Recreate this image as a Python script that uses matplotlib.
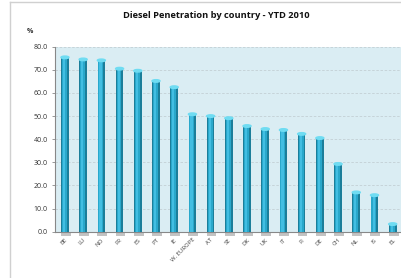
import numpy as np
import matplotlib
matplotlib.use("Agg")
import matplotlib.pyplot as plt
from matplotlib.lines import Line2D
from matplotlib.patches import Ellipse

# DATA
countries = ["BE", "LU", "NO", "FR", "ES", "PT", "IE", "W. EUROPE", "AT", "SE",
             "DK", "UK", "IT", "FI", "DE", "CH", "NL", "IS", "EL"]
diesel_share = [75.4, 74.5, 74.1, 70.5, 69.6, 65.2, 62.5, 50.8, 50.0, 49.1,
                45.7, 44.4, 44.0, 42.3, 40.5, 29.3, 17.0, 15.8, 3.3]
yticks = [0, 10, 20, 30, 40, 50, 60, 70, 80]

plt.rcParams["font.family"] = ["Open Sans", "DejaVu Sans"]

fig = plt.figure(figsize=(4.01, 2.78), dpi=100)
ax = fig.add_axes([0.137, 0.1665, 0.865, 0.6655])

x = np.arange(len(countries))
w = 0.42

# shadow under the bars
ax.bar(x + 0.05, -1.8, width=w + 0.12, color="#7a7a7a", alpha=0.45,
       clip_on=False, zorder=1)

# cylinder look: dark body, mid band, light core
ax.bar(x, diesel_share, width=w, color="#1b7e9a", zorder=3)
ax.bar(x - 0.03, diesel_share, width=w * 0.64, color="#29a8cb", zorder=4)
ax.bar(x - 0.05, diesel_share, width=w * 0.28, color="#42bee2", zorder=5)

# top caps
for xi, v in zip(x, diesel_share):
    ax.add_patch(Ellipse((xi, v), w * 1.05, 1.1, color="#6fdcf2", zorder=6))

ax.set_facecolor("#daedf3")
ax.set_xlim(-0.55, 18.5)
ax.set_ylim(0, 80)
ax.set_yticks(yticks)
ax.set_yticklabels([f"{t:.1f}" for t in yticks], fontsize=5, color="#333333")
ax.yaxis.grid(True, color="#c3d0d4", linestyle=(0, (3, 2)), linewidth=0.6)
ax.set_axisbelow(True)

ax.set_xticks(x)
ax.set_xticklabels(countries, rotation=45, ha="right", rotation_mode="anchor",
                   fontsize=4.3, color="#444444")
ax.tick_params(axis="x", length=0, pad=4)
ax.tick_params(axis="y", length=2, width=0.6, color="#888888", pad=3)

for s in ["top", "right"]:
    ax.spines[s].set_visible(False)
ax.spines["left"].set_color("#888888")
ax.spines["bottom"].set_color("#888888")
ax.spines["left"].set_linewidth(0.8)
ax.spines["bottom"].set_linewidth(0.8)

fig.text(0.54, 0.946, "Diesel Penetration by country - YTD 2010",
         ha="center", va="center", fontsize=6.7, fontweight="bold",
         color="#111111")
fig.text(0.067, 0.887, "%", ha="left", va="center", fontsize=5,
         fontweight="bold", color="#333333")

# outer frame lines
fig.add_artist(Line2D([0.025, 1.0], [0.992, 0.992], color="#d0d0d0",
                      linewidth=1.0, transform=fig.transFigure))
fig.add_artist(Line2D([0.025, 0.025], [0.0, 0.992], color="#d0d0d0",
                      linewidth=1.0, transform=fig.transFigure))

fig.savefig("out.png", dpi=100)
